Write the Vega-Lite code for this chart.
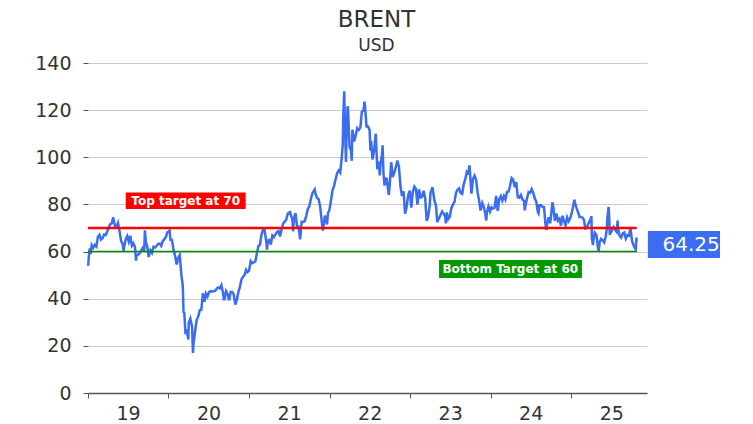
{
  "$schema": "https://vega.github.io/schema/vega-lite/v6.json",
  "width": 559,
  "height": 330,
  "autosize": {"type": "none"},
  "padding": {"left": 88, "top": 63, "right": 106, "bottom": 31},
  "background": "white",
  "title": {
    "text": "BRENT",
    "subtitle": "USD",
    "anchor": "middle",
    "frame": "group",
    "dx": 9,
    "offset": 0,
    "font": "DejaVu Sans",
    "fontSize": 23,
    "fontWeight": "normal",
    "color": "#333333",
    "subtitleFont": "DejaVu Sans",
    "subtitleFontSize": 17,
    "subtitleColor": "#333333",
    "subtitlePadding": 6
  },
  "config": {
    "view": {"stroke": null},
    "axis": {"labelFont": "DejaVu Sans", "labelFontSize": 19, "labelColor": "#333333"}
  },
  "datasets": {
    "brent": [
      {"d":"2019-01-02","v":54.0},{"d":"2019-01-04","v":57.1},{"d":"2019-01-09","v":61.4},{"d":"2019-01-14","v":59.0},{"d":"2019-01-18","v":62.7},{"d":"2019-01-25","v":61.6},{"d":"2019-02-01","v":62.8},{"d":"2019-02-08","v":62.1},{"d":"2019-02-15","v":66.3},{"d":"2019-02-22","v":67.1},{"d":"2019-03-01","v":65.1},{"d":"2019-03-08","v":65.7},{"d":"2019-03-15","v":67.2},{"d":"2019-03-22","v":67.0},{"d":"2019-03-29","v":68.4},{"d":"2019-04-05","v":70.3},{"d":"2019-04-12","v":71.6},{"d":"2019-04-19","v":72.0},{"d":"2019-04-25","v":74.6},{"d":"2019-05-03","v":70.9},{"d":"2019-05-10","v":70.6},{"d":"2019-05-17","v":72.2},{"d":"2019-05-24","v":68.7},{"d":"2019-05-31","v":64.5},{"d":"2019-06-07","v":63.3},{"d":"2019-06-12","v":60.0},{"d":"2019-06-14","v":62.0},{"d":"2019-06-21","v":65.2},{"d":"2019-06-28","v":66.6},{"d":"2019-07-05","v":64.2},{"d":"2019-07-12","v":66.7},{"d":"2019-07-19","v":62.5},{"d":"2019-07-26","v":63.5},{"d":"2019-08-02","v":61.9},{"d":"2019-08-07","v":56.2},{"d":"2019-08-09","v":58.5},{"d":"2019-08-16","v":58.6},{"d":"2019-08-23","v":59.3},{"d":"2019-08-30","v":60.4},{"d":"2019-09-06","v":61.5},{"d":"2019-09-13","v":60.2},{"d":"2019-09-16","v":69.0},{"d":"2019-09-20","v":64.3},{"d":"2019-09-27","v":61.9},{"d":"2019-10-03","v":57.7},{"d":"2019-10-11","v":60.5},{"d":"2019-10-18","v":59.4},{"d":"2019-10-25","v":62.0},{"d":"2019-11-01","v":61.7},{"d":"2019-11-08","v":62.5},{"d":"2019-11-15","v":63.3},{"d":"2019-11-22","v":63.4},{"d":"2019-11-29","v":62.4},{"d":"2019-12-06","v":64.4},{"d":"2019-12-13","v":65.2},{"d":"2019-12-20","v":66.1},{"d":"2019-12-27","v":68.2},
      {"d":"2020-01-03","v":68.6},{"d":"2020-01-06","v":68.9},{"d":"2020-01-10","v":65.0},{"d":"2020-01-17","v":64.9},{"d":"2020-01-24","v":60.7},{"d":"2020-01-31","v":58.2},{"d":"2020-02-07","v":54.5},{"d":"2020-02-14","v":57.3},{"d":"2020-02-21","v":58.5},{"d":"2020-02-28","v":50.5},{"d":"2020-03-06","v":45.3},{"d":"2020-03-09","v":34.4},{"d":"2020-03-13","v":33.9},{"d":"2020-03-18","v":25.0},{"d":"2020-03-20","v":27.0},{"d":"2020-03-27","v":24.9},{"d":"2020-03-31","v":22.7},{"d":"2020-04-02","v":29.9},{"d":"2020-04-09","v":31.5},{"d":"2020-04-17","v":28.1},{"d":"2020-04-21","v":17.0},{"d":"2020-04-24","v":21.4},{"d":"2020-05-01","v":26.4},{"d":"2020-05-08","v":31.0},{"d":"2020-05-15","v":32.5},{"d":"2020-05-22","v":35.1},{"d":"2020-05-29","v":35.3},{"d":"2020-06-05","v":42.3},{"d":"2020-06-12","v":38.7},{"d":"2020-06-19","v":42.2},{"d":"2020-06-26","v":41.0},{"d":"2020-07-03","v":42.8},{"d":"2020-07-10","v":43.2},{"d":"2020-07-17","v":43.1},{"d":"2020-07-24","v":43.3},{"d":"2020-07-31","v":43.3},{"d":"2020-08-07","v":44.4},{"d":"2020-08-14","v":44.8},{"d":"2020-08-21","v":44.4},{"d":"2020-08-28","v":45.8},{"d":"2020-09-04","v":42.7},{"d":"2020-09-08","v":39.8},{"d":"2020-09-11","v":39.8},{"d":"2020-09-18","v":43.2},{"d":"2020-09-25","v":41.9},{"d":"2020-10-02","v":39.3},{"d":"2020-10-09","v":42.9},{"d":"2020-10-16","v":42.9},{"d":"2020-10-23","v":41.8},{"d":"2020-10-30","v":37.5},{"d":"2020-11-06","v":39.5},{"d":"2020-11-13","v":42.8},{"d":"2020-11-20","v":45.0},{"d":"2020-11-27","v":48.2},{"d":"2020-12-04","v":49.3},{"d":"2020-12-11","v":50.0},{"d":"2020-12-18","v":52.3},{"d":"2020-12-24","v":51.3},{"d":"2020-12-31","v":51.8},
      {"d":"2021-01-08","v":56.0},{"d":"2021-01-15","v":55.1},{"d":"2021-01-22","v":55.4},{"d":"2021-01-29","v":55.9},{"d":"2021-02-05","v":59.3},{"d":"2021-02-12","v":62.4},{"d":"2021-02-19","v":62.9},{"d":"2021-02-25","v":66.9},{"d":"2021-03-05","v":69.4},{"d":"2021-03-11","v":69.6},{"d":"2021-03-19","v":64.5},{"d":"2021-03-23","v":60.8},{"d":"2021-03-26","v":64.6},{"d":"2021-04-02","v":64.9},{"d":"2021-04-09","v":63.0},{"d":"2021-04-16","v":66.8},{"d":"2021-04-23","v":66.1},{"d":"2021-04-30","v":67.3},{"d":"2021-05-07","v":68.3},{"d":"2021-05-14","v":68.7},{"d":"2021-05-21","v":66.4},{"d":"2021-05-28","v":69.6},{"d":"2021-06-04","v":71.9},{"d":"2021-06-11","v":72.7},{"d":"2021-06-18","v":73.5},{"d":"2021-06-25","v":76.2},{"d":"2021-07-02","v":76.2},{"d":"2021-07-05","v":77.2},{"d":"2021-07-09","v":75.6},{"d":"2021-07-16","v":73.6},{"d":"2021-07-19","v":68.6},{"d":"2021-07-23","v":74.1},{"d":"2021-07-30","v":76.3},{"d":"2021-08-06","v":70.7},{"d":"2021-08-13","v":70.6},{"d":"2021-08-20","v":65.2},{"d":"2021-08-27","v":72.7},{"d":"2021-09-03","v":72.6},{"d":"2021-09-10","v":72.9},{"d":"2021-09-17","v":75.3},{"d":"2021-09-24","v":78.1},{"d":"2021-10-01","v":79.3},{"d":"2021-10-08","v":82.4},{"d":"2021-10-15","v":84.9},{"d":"2021-10-25","v":86.4},{"d":"2021-10-29","v":84.4},{"d":"2021-11-05","v":82.7},{"d":"2021-11-12","v":82.2},{"d":"2021-11-19","v":78.9},{"d":"2021-11-26","v":72.7},{"d":"2021-12-01","v":68.9},{"d":"2021-12-03","v":69.9},{"d":"2021-12-10","v":75.2},{"d":"2021-12-17","v":73.5},{"d":"2021-12-20","v":71.5},{"d":"2021-12-24","v":76.1},{"d":"2021-12-31","v":77.8},
      {"d":"2022-01-07","v":81.8},{"d":"2022-01-14","v":86.1},{"d":"2022-01-21","v":87.9},{"d":"2022-01-26","v":90.0},{"d":"2022-02-04","v":93.3},{"d":"2022-02-11","v":94.4},{"d":"2022-02-18","v":93.5},{"d":"2022-02-24","v":99.1},{"d":"2022-03-01","v":105.0},{"d":"2022-03-04","v":118.1},{"d":"2022-03-08","v":128.0},{"d":"2022-03-11","v":112.7},{"d":"2022-03-16","v":98.0},{"d":"2022-03-18","v":107.9},{"d":"2022-03-23","v":121.6},{"d":"2022-03-25","v":120.7},{"d":"2022-04-01","v":104.4},{"d":"2022-04-08","v":102.8},{"d":"2022-04-11","v":98.5},{"d":"2022-04-14","v":111.7},{"d":"2022-04-22","v":106.7},{"d":"2022-04-29","v":109.3},{"d":"2022-05-06","v":112.4},{"d":"2022-05-13","v":111.6},{"d":"2022-05-20","v":112.6},{"d":"2022-05-27","v":119.4},{"d":"2022-06-03","v":119.7},{"d":"2022-06-08","v":123.6},{"d":"2022-06-10","v":122.0},{"d":"2022-06-17","v":113.1},{"d":"2022-06-24","v":113.1},{"d":"2022-07-01","v":111.6},{"d":"2022-07-05","v":102.8},{"d":"2022-07-08","v":107.0},{"d":"2022-07-14","v":99.1},{"d":"2022-07-22","v":103.2},{"d":"2022-07-29","v":110.0},{"d":"2022-08-05","v":94.9},{"d":"2022-08-12","v":98.2},{"d":"2022-08-16","v":92.3},{"d":"2022-08-19","v":96.7},{"d":"2022-08-26","v":101.0},{"d":"2022-08-29","v":105.1},{"d":"2022-09-02","v":93.0},{"d":"2022-09-07","v":88.0},{"d":"2022-09-16","v":91.4},{"d":"2022-09-23","v":86.2},{"d":"2022-09-26","v":84.1},{"d":"2022-09-30","v":88.0},{"d":"2022-10-07","v":97.9},{"d":"2022-10-14","v":91.6},{"d":"2022-10-21","v":93.5},{"d":"2022-10-28","v":95.8},{"d":"2022-11-04","v":98.6},{"d":"2022-11-11","v":96.0},{"d":"2022-11-18","v":87.6},{"d":"2022-11-25","v":83.6},{"d":"2022-12-02","v":85.6},{"d":"2022-12-09","v":76.1},{"d":"2022-12-16","v":79.0},{"d":"2022-12-23","v":83.9},{"d":"2022-12-30","v":85.9},
      {"d":"2023-01-06","v":78.6},{"d":"2023-01-13","v":85.3},{"d":"2023-01-20","v":87.6},{"d":"2023-01-27","v":86.7},{"d":"2023-02-03","v":79.9},{"d":"2023-02-10","v":86.4},{"d":"2023-02-17","v":83.0},{"d":"2023-02-24","v":83.2},{"d":"2023-03-03","v":85.8},{"d":"2023-03-10","v":82.8},{"d":"2023-03-17","v":73.0},{"d":"2023-03-20","v":73.8},{"d":"2023-03-24","v":75.0},{"d":"2023-03-31","v":79.8},{"d":"2023-04-03","v":84.9},{"d":"2023-04-12","v":87.3},{"d":"2023-04-21","v":81.7},{"d":"2023-04-28","v":79.5},{"d":"2023-05-04","v":72.5},{"d":"2023-05-12","v":74.2},{"d":"2023-05-19","v":75.6},{"d":"2023-05-26","v":77.0},{"d":"2023-06-02","v":76.1},{"d":"2023-06-09","v":74.8},{"d":"2023-06-12","v":72.0},{"d":"2023-06-16","v":76.6},{"d":"2023-06-23","v":73.9},{"d":"2023-06-30","v":74.9},{"d":"2023-07-07","v":78.5},{"d":"2023-07-14","v":79.9},{"d":"2023-07-21","v":81.1},{"d":"2023-07-28","v":85.0},{"d":"2023-08-04","v":86.2},{"d":"2023-08-11","v":86.8},{"d":"2023-08-18","v":84.8},{"d":"2023-08-25","v":84.5},{"d":"2023-09-01","v":88.6},{"d":"2023-09-08","v":90.7},{"d":"2023-09-15","v":93.9},{"d":"2023-09-22","v":93.3},{"d":"2023-09-27","v":96.6},{"d":"2023-10-06","v":84.6},{"d":"2023-10-13","v":90.9},{"d":"2023-10-20","v":92.2},{"d":"2023-10-27","v":90.5},{"d":"2023-11-03","v":84.9},{"d":"2023-11-10","v":81.4},{"d":"2023-11-16","v":77.4},{"d":"2023-11-24","v":80.6},{"d":"2023-12-01","v":78.9},{"d":"2023-12-08","v":75.8},{"d":"2023-12-12","v":73.2},{"d":"2023-12-15","v":76.6},{"d":"2023-12-22","v":79.1},{"d":"2023-12-29","v":77.0},
      {"d":"2024-01-05","v":78.8},{"d":"2024-01-12","v":78.3},{"d":"2024-01-19","v":78.6},{"d":"2024-01-26","v":83.6},{"d":"2024-02-02","v":77.3},{"d":"2024-02-09","v":82.2},{"d":"2024-02-16","v":83.5},{"d":"2024-02-23","v":81.6},{"d":"2024-03-01","v":83.6},{"d":"2024-03-08","v":82.1},{"d":"2024-03-15","v":85.3},{"d":"2024-03-22","v":85.4},{"d":"2024-03-28","v":87.5},{"d":"2024-04-05","v":91.2},{"d":"2024-04-12","v":90.5},{"d":"2024-04-19","v":87.3},{"d":"2024-04-26","v":89.5},{"d":"2024-05-03","v":83.0},{"d":"2024-05-10","v":82.8},{"d":"2024-05-17","v":84.0},{"d":"2024-05-24","v":82.1},{"d":"2024-05-31","v":81.6},{"d":"2024-06-04","v":77.5},{"d":"2024-06-07","v":79.6},{"d":"2024-06-14","v":82.6},{"d":"2024-06-21","v":85.2},{"d":"2024-06-28","v":85.0},{"d":"2024-07-05","v":86.5},{"d":"2024-07-12","v":85.0},{"d":"2024-07-19","v":82.6},{"d":"2024-07-26","v":81.1},{"d":"2024-08-02","v":76.8},{"d":"2024-08-05","v":76.3},{"d":"2024-08-09","v":79.7},{"d":"2024-08-16","v":79.7},{"d":"2024-08-23","v":79.0},{"d":"2024-08-30","v":78.8},{"d":"2024-09-06","v":71.1},{"d":"2024-09-10","v":69.2},{"d":"2024-09-13","v":71.6},{"d":"2024-09-20","v":74.5},{"d":"2024-09-27","v":72.0},{"d":"2024-10-04","v":78.1},{"d":"2024-10-07","v":80.9},{"d":"2024-10-11","v":79.0},{"d":"2024-10-18","v":73.1},{"d":"2024-10-25","v":76.1},{"d":"2024-11-01","v":73.1},{"d":"2024-11-08","v":73.9},{"d":"2024-11-15","v":71.0},{"d":"2024-11-22","v":75.2},{"d":"2024-11-29","v":72.9},{"d":"2024-12-06","v":71.1},{"d":"2024-12-13","v":74.5},{"d":"2024-12-20","v":72.9},{"d":"2024-12-27","v":74.2},
      {"d":"2025-01-03","v":76.5},{"d":"2025-01-10","v":79.8},{"d":"2025-01-15","v":82.0},{"d":"2025-01-17","v":80.8},{"d":"2025-01-24","v":78.5},{"d":"2025-01-31","v":76.8},{"d":"2025-02-07","v":74.7},{"d":"2025-02-14","v":74.7},{"d":"2025-02-21","v":74.4},{"d":"2025-02-28","v":73.2},{"d":"2025-03-05","v":69.3},{"d":"2025-03-07","v":70.4},{"d":"2025-03-14","v":70.6},{"d":"2025-03-21","v":72.2},{"d":"2025-03-28","v":73.6},{"d":"2025-04-02","v":75.0},{"d":"2025-04-04","v":65.6},{"d":"2025-04-09","v":62.8},{"d":"2025-04-11","v":64.8},{"d":"2025-04-17","v":68.0},{"d":"2025-04-25","v":66.9},{"d":"2025-05-02","v":61.3},{"d":"2025-05-05","v":60.2},{"d":"2025-05-09","v":63.9},{"d":"2025-05-16","v":65.4},{"d":"2025-05-23","v":64.8},{"d":"2025-05-30","v":63.9},{"d":"2025-06-06","v":66.5},{"d":"2025-06-11","v":69.8},{"d":"2025-06-13","v":74.2},{"d":"2025-06-19","v":78.9},{"d":"2025-06-23","v":71.5},{"d":"2025-06-24","v":67.1},{"d":"2025-06-27","v":67.8},{"d":"2025-07-03","v":68.8},{"d":"2025-07-11","v":70.4},{"d":"2025-07-18","v":69.3},{"d":"2025-07-25","v":68.4},{"d":"2025-07-30","v":73.2},{"d":"2025-08-01","v":69.7},{"d":"2025-08-08","v":66.6},{"d":"2025-08-15","v":65.9},{"d":"2025-08-22","v":67.7},{"d":"2025-08-29","v":68.1},{"d":"2025-09-05","v":65.5},{"d":"2025-09-12","v":67.0},{"d":"2025-09-19","v":66.7},{"d":"2025-09-26","v":70.1},{"d":"2025-10-03","v":64.5},{"d":"2025-10-10","v":62.7},{"d":"2025-10-17","v":61.3},{"d":"2025-10-20","v":61.0},{"d":"2025-10-23","v":65.9},{"d":"2025-10-24","v":64.25}
    ],
    "one": [{}]
  },
  "layer": [
    {
      "data": {"name": "brent"},
      "mark": {"type": "line", "color": "#3a6df0", "strokeWidth": 2.5},
      "encoding": {
        "x": {
          "field": "d", "type": "temporal",
          "scale": {"domain": [{"year": 2019, "month": 1, "date": 1}, {"year": 2025, "month": 12, "date": 10}]},
          "axis": {
            "title": null, "format": "%y", "tickCount": {"interval": "year", "step": 1},
            "grid": false, "labelOffset": 40, "labelPadding": 6, "tickSize": 5,
            "tickColor": "#555555", "domainColor": "#555555", "domainWidth": 1.5, "labelFlush": false
          }
        },
        "y": {
          "field": "v", "type": "quantitative",
          "scale": {"domain": [0, 140], "nice": false},
          "axis": {
            "title": null, "values": [0, 20, 40, 60, 80, 100, 120, 140], "domain": false,
            "tickSize": 5, "tickColor": "#555555", "labelPadding": 12,
            "gridColor": "#cccccc", "gridWidth": 1
          }
        }
      }
    },
    {
      "data": {"name": "one"},
      "mark": {"type": "rule", "color": "#ff0000", "strokeWidth": 2.5},
      "encoding": {
        "x": {"datum": {"year": 2019, "month": 1, "date": 1}, "type": "temporal"},
        "x2": {"datum": {"year": 2025, "month": 10, "date": 24}},
        "y": {"datum": 70, "type": "quantitative"}
      }
    },
    {
      "data": {"name": "one"},
      "mark": {"type": "rule", "color": "#008a00", "strokeWidth": 1.5},
      "encoding": {
        "x": {"datum": {"year": 2019, "month": 1, "date": 1}, "type": "temporal"},
        "x2": {"datum": {"year": 2025, "month": 10, "date": 24}},
        "y": {"datum": 60, "type": "quantitative"}
      }
    },
    {
      "data": {"name": "one"},
      "mark": {"type": "rect", "color": "#ff0000"},
      "encoding": {
        "x": {"datum": {"year": 2019, "month": 6, "date": 21}, "type": "temporal"},
        "x2": {"datum": {"year": 2020, "month": 12, "date": 16}},
        "y": {"datum": 78.1, "type": "quantitative"},
        "y2": {"datum": 85.1}
      }
    },
    {
      "data": {"name": "one"},
      "mark": {"type": "text", "text": "Top target at 70", "color": "white", "font": "DejaVu Sans", "fontWeight": "bold", "fontSize": 12, "align": "center", "baseline": "middle"},
      "encoding": {
        "x": {"datum": {"year": 2020, "month": 3, "date": 19}, "type": "temporal"},
        "y": {"datum": 81.6, "type": "quantitative"}
      }
    },
    {
      "data": {"name": "one"},
      "mark": {"type": "rect", "color": "#009900"},
      "encoding": {
        "x": {"datum": {"year": 2023, "month": 5, "date": 12}, "type": "temporal"},
        "x2": {"datum": {"year": 2025, "month": 2, "date": 18}},
        "y": {"datum": 48.8, "type": "quantitative"},
        "y2": {"datum": 56.4}
      }
    },
    {
      "data": {"name": "one"},
      "mark": {"type": "text", "text": "Bottom Target at 60", "color": "white", "font": "DejaVu Sans", "fontWeight": "bold", "fontSize": 12, "align": "center", "baseline": "middle"},
      "encoding": {
        "x": {"datum": {"year": 2024, "month": 3, "date": 30}, "type": "temporal"},
        "y": {"datum": 52.6, "type": "quantitative"}
      }
    },
    {
      "data": {"name": "one"},
      "mark": {"type": "rect", "color": "#3a6df0"},
      "encoding": {
        "x": {"datum": {"year": 2025, "month": 12, "date": 14}, "type": "temporal"},
        "x2": {"datum": {"year": 2026, "month": 11, "date": 6}},
        "y": {"datum": 57.3, "type": "quantitative"},
        "y2": {"datum": 68.7}
      }
    },
    {
      "data": {"name": "one"},
      "mark": {"type": "text", "text": "64.25", "color": "white", "font": "DejaVu Sans", "fontSize": 20, "align": "center", "baseline": "middle"},
      "encoding": {
        "x": {"datum": {"year": 2026, "month": 6, "date": 28}, "type": "temporal"},
        "y": {"datum": 63.0, "type": "quantitative"}
      }
    }
  ]
}
